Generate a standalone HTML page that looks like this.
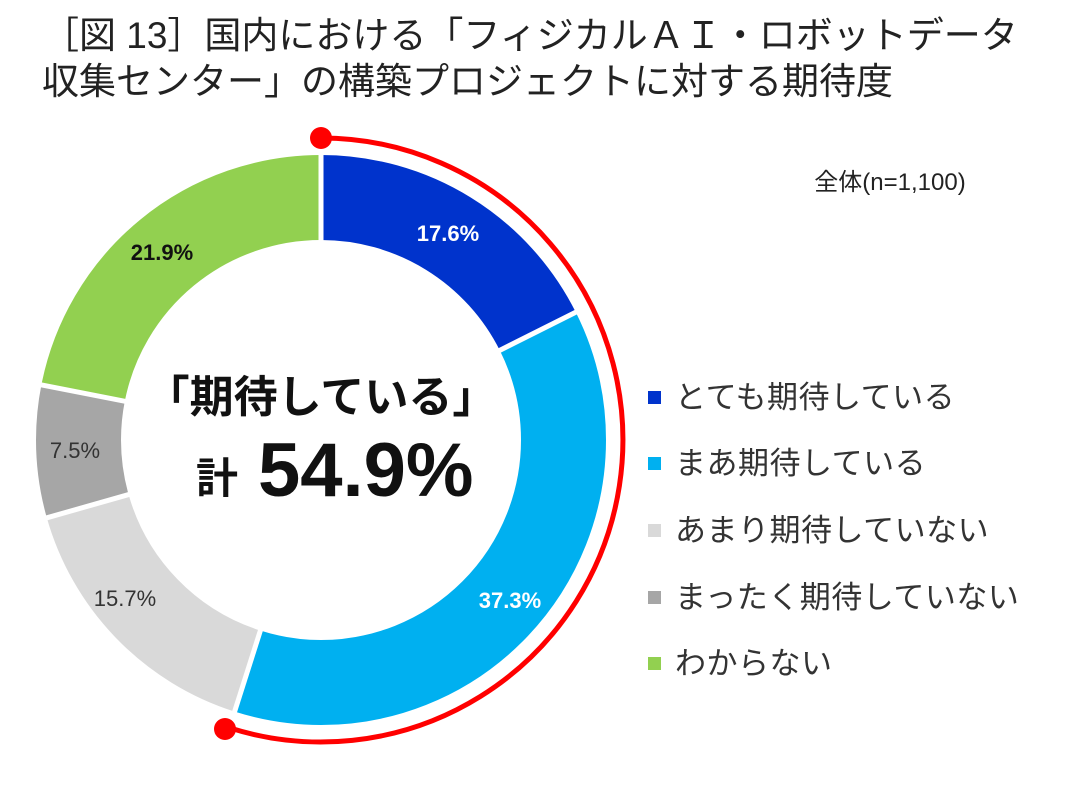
<!DOCTYPE html>
<html><head><meta charset="utf-8"><style>
body{margin:0;background:#fff;}
svg{display:block;font-family:"Liberation Sans","Noto Sans CJK JP",sans-serif;}
</style></head><body>
<svg width="1079" height="788" viewBox="0 0 1079 788">
<text x="42" y="48" font-size="37" fill="#222">［図 13］国内における「フィジカルＡＩ・ロボットデータ</text>
<text x="42" y="94" font-size="37" fill="#222">収集センター」の構築プロジェクトに対する期待度</text>
<text x="890" y="190" font-size="24" fill="#222" text-anchor="middle">全体(n=1,100)</text>
<g transform="rotate(-90 321 440)" fill="none" stroke-width="85">
<circle cx="321" cy="440" r="242.5" stroke="#0033cc" stroke-dasharray="268.2 2000" stroke-dashoffset="0"/>
<circle cx="321" cy="440" r="242.5" stroke="#00b0f0" stroke-dasharray="568.4 2000" stroke-dashoffset="-268.2"/>
<circle cx="321" cy="440" r="242.5" stroke="#d9d9d9" stroke-dasharray="239.2 2000" stroke-dashoffset="-836.6"/>
<circle cx="321" cy="440" r="242.5" stroke="#a6a6a6" stroke-dasharray="114.3 2000" stroke-dashoffset="-1075.8"/>
<circle cx="321" cy="440" r="242.5" stroke="#92d050" stroke-dasharray="333.7 2000" stroke-dashoffset="-1190.1"/>
</g>
<g stroke="#fff" stroke-width="5">
<line x1="321" y1="245" x2="321" y2="150"/>
<line x1="495.3" y1="352.6" x2="580.2" y2="310"/>
<line x1="261.9" y1="625.8" x2="233.1" y2="716.4"/>
<line x1="133.4" y1="493.2" x2="42" y2="519.2"/>
<line x1="129.7" y1="402.2" x2="36.5" y2="383.9"/>
</g>
<path d="M321 138 A302 302 0 1 1 230 728" fill="none" stroke="#ff0000" stroke-width="5"/>
<circle cx="321" cy="138" r="11" fill="#ff0000"/>
<circle cx="225" cy="729" r="11" fill="#ff0000"/>
<g font-size="22" text-anchor="middle">
<text x="448" y="241" fill="#fff" font-weight="bold">17.6%</text>
<text x="510" y="608" fill="#fff" font-weight="bold">37.3%</text>
<text x="125" y="606" fill="#333">15.7%</text>
<text x="75" y="458" fill="#333">7.5%</text>
<text x="162" y="260" fill="#111" font-weight="bold">21.9%</text>
</g>
<text x="321" y="412" font-size="44" font-weight="bold" text-anchor="middle" fill="#111">「期待している」</text>
<text x="196" y="493" font-size="42" font-weight="bold" fill="#111">計</text>
<text x="258" y="496" font-size="76" font-weight="bold" fill="#111">54.9%</text>
<g font-size="31" fill="#333" letter-spacing="0.5">
<rect x="648" y="391" width="13" height="13" fill="#0033cc"/><text x="675" y="408">とても期待している</text>
<rect x="648" y="457" width="13" height="13" fill="#00b0f0"/><text x="675" y="474">まあ期待している</text>
<rect x="648" y="524" width="13" height="13" fill="#d9d9d9"/><text x="675" y="541">あまり期待していない</text>
<rect x="648" y="591" width="13" height="13" fill="#a6a6a6"/><text x="675" y="608">まったく期待していない</text>
<rect x="648" y="657" width="13" height="13" fill="#92d050"/><text x="675" y="674">わからない</text>
</g>
</svg>
</body></html>
